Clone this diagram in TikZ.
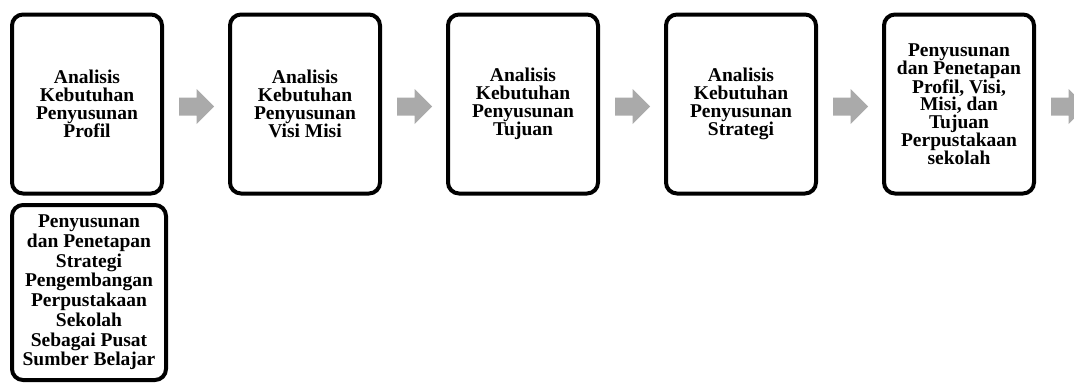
\documentclass[tikz,border=0pt]{standalone}
\usepackage{fontspec}
\setmainfont{Liberation Serif}
\definecolor{arrowgray}{RGB}{170,170,170}
\begin{document}
\begin{tikzpicture}[x=1pt,y=-1pt,
  box/.style={draw=black, line width=4pt, rounded corners=11pt,
    minimum width=150pt, minimum height=179pt, inner sep=0pt,
    align=center, font=\bfseries\fontsize{19.5pt}{17.8pt}\selectfont},
  tallbox/.style={box, minimum width=154pt, minimum height=175pt,
    font=\bfseries\fontsize{19.5pt}{19.7pt}\selectfont},
  blockarrow/.style={fill=arrowgray, draw=none}]
\useasboundingbox (0,0) rectangle (1074,383);
\clip (0,0) rectangle (1074,383);
\node[box] (b1) at (87,104) {Analisis\\Kebutuhan\\Penyusunan\\Profil};
\node[box] (b2) at (305,104) {Analisis\\Kebutuhan\\Penyusunan\\Visi Misi};
\node[box] (b3) at (523,104) {Analisis\\Kebutuhan\\Penyusunan\\Tujuan};
\node[box] (b4) at (741,104) {Analisis\\Kebutuhan\\Penyusunan\\Strategi};
\node[box] (b5) at (959,104) {Penyusunan\\dan Penetapan\\Profil, Visi,\\Misi, dan\\Tujuan\\Perpustakaan\\sekolah};
\node[tallbox] (b6) at (89,292.5) {Penyusunan\\dan Penetapan\\Strategi\\Pengembangan\\Perpustakaan\\Sekolah\\Sebagai Pusat\\Sumber Belajar};
\foreach \k in {0,...,4}{
  \pgfmathsetmacro{\xs}{179+218*\k}
  \fill[blockarrow] (\xs,97.5) -- ++(17.5,0) -- ++(0,-8.5) -- ++(17.5,17.5)
    -- ++(-17.5,17.5) -- ++(0,-8.5) -- (\xs,115.5) -- cycle;
}
\end{tikzpicture}
\end{document}
